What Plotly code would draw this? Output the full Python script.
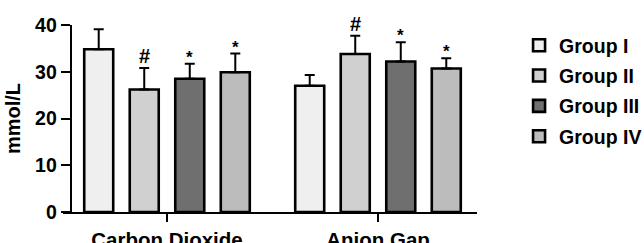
import plotly.graph_objects as go

categories = ["Carbon Dioxide", "Anion Gap"]
groups = ["Group I", "Group II", "Group III", "Group IV"]
means = {
    "Group I": [34.8, 27.0],
    "Group II": [26.2, 33.8],
    "Group III": [28.5, 32.2],
    "Group IV": [29.9, 30.7],
}
sds = {
    "Group I": [4.3, 2.3],
    "Group II": [4.6, 3.9],
    "Group III": [3.2, 4.1],
    "Group IV": [4.0, 2.2],
}
marks = {
    "Group I": ["", ""],
    "Group II": ["#", "#"],
    "Group III": ["*", "*"],
    "Group IV": ["*", "*"],
}
colors = ["#efefef", "#d0d0d0", "#6f6f6f", "#bcbcbc"]

FONT = "Arial, Liberation Sans, sans-serif"
xpos = [0, 1]
bargap = 0.137
slot = (1 - bargap) / len(groups)

fig = go.Figure()
for i, g in enumerate(groups):
    fig.add_trace(go.Bar(
        x=xpos, y=means[g], name=g,
        marker=dict(color=colors[i], line=dict(color="black", width=2.6)),
        error_y=dict(type="data", symmetric=False, array=sds[g], arrayminus=[0, 0],
                     color="black", thickness=2, width=5),
        legendgroup=g,
    ))

annotations = []
for i, g in enumerate(groups):
    for k, x0 in enumerate(xpos):
        m = marks[g][k]
        if not m:
            continue
        xc = x0 + (i - 1.5) * slot
        top = means[g][k] + sds[g][k]
        annotations.append(dict(
            x=xc, y=top, text=f"<b>{m}</b>", showarrow=False, xref="x", yref="y",
            yanchor="bottom", yshift=-1 if m == "#" else -5,
            font=dict(family=FONT, size=20 if m == "#" else 17, color="black"),
        ))

fig.update_layout(
    width=644, height=243,
    margin=dict(l=63, r=167, t=25, b=31),
    paper_bgcolor="white", plot_bgcolor="white",
    barmode="group", bargap=bargap, bargroupgap=0.363,
    font=dict(family=FONT, color="black"),
    showlegend=True,
    legend=dict(xref="container", yref="container", x=0.806, xanchor="left", y=0.893, yanchor="top",
                font=dict(family=FONT, size=19.5, color="black", weight="bold"),
                tracegroupgap=2, itemwidth=30, bgcolor="rgba(0,0,0,0)", borderwidth=0),
    annotations=annotations,
    xaxis=dict(range=[-0.4929, 1.4692], tickvals=xpos, ticktext=[f"<b>{c}</b>" for c in categories],
               showline=True, linecolor="black", linewidth=2, ticks="outside", ticklen=8,
               tickwidth=2, tickcolor="black", showgrid=False, zeroline=False, automargin=False,
               tickfont=dict(family=FONT, size=20.5, color="black")),
    yaxis=dict(range=[0, 40], tickvals=[0, 10, 20, 30, 40],
               ticktext=["<b>0</b>", "<b>10</b>", "<b>20</b>", "<b>30</b>", "<b>40</b>"],
               anchor="free", position=0.0186,
               showline=True, linecolor="black", linewidth=2, ticks="outside", ticklen=9,
               tickwidth=2, tickcolor="black", showgrid=False, zeroline=False, automargin=False,
               tickfont=dict(family=FONT, size=19.5, color="black"),
               title=dict(text="<b>mmol/L</b>", font=dict(family=FONT, size=20, color="black"),
                          standoff=8)),
)

fig.write_html("out.html", config={"displayModeBar": False},
               post_script="document.body.style.margin='0';document.body.style.overflow='hidden';")
